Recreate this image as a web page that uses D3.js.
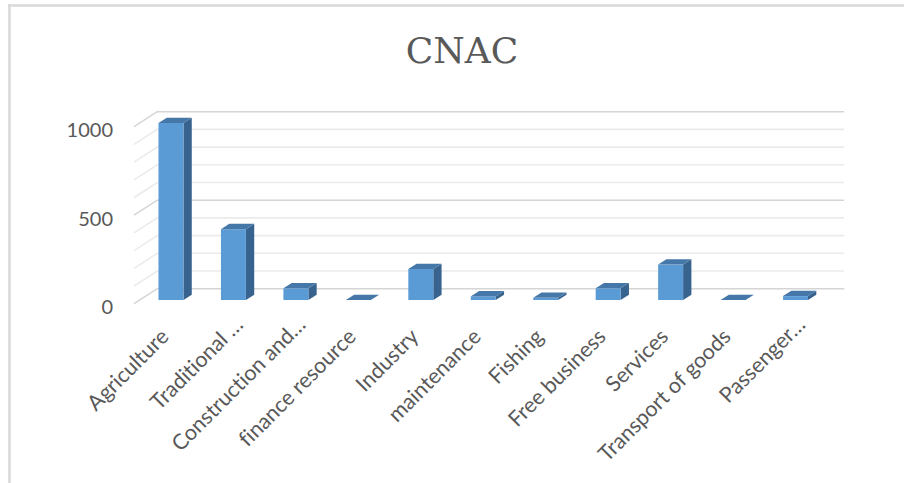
<!DOCTYPE html>
<html>
<head>
<meta charset="utf-8">
<script src="https://cdn.jsdelivr.net/npm/d3@7"></script>
<style>
  html, body { margin: 0; padding: 0; background: #ffffff; }
  svg { display: block; }
  text { font-variant-ligatures: none; }
</style>
</head>
<body>
<svg id="chart" width="904" height="483"></svg>
<script>
// Chart data
const title = "CNAC";
const categories = [
  "Agriculture", "Traditional …", "Construction and…", "finance resource",
  "Industry", "maintenance", "Fishing", "Free business", "Services",
  "Transport of goods", "Passenger…"
];
const values = [1000, 400, 66, 0, 175, 20, 12, 66, 200, 0, 22];
const yTickValues = [0, 500, 1000];
const yMax = 1000;

// Layout of the oblique 3-D plot box
const plotLeft = 134, plotRight = 821;      // front edge of the floor
const plotBottom = 303.7, plotTop = 126.7;  // value 0 / yMax on the front plane
const depthDx = 23.3, depthDy = -15;        // offset from front plane to back wall
const barFrontDepth = 0.247, barBackDepth = 0.603;
const barWidthFrac = 0.4;

const textColor = "#595959";
const colors = { front: "#5b9bd5", top: "#4677a9", side: "#38638e" };

const svg = d3.select("#chart");

const x = d3.scaleBand().domain(categories).range([plotLeft, plotRight]).padding(0);
const y = d3.scaleLinear().domain([0, yMax]).range([plotBottom, plotTop]);

// project a point of the front plane to a given depth (0 = front, 1 = back wall)
const P = (px, py, f) => [px + depthDx * f, py + depthDy * f];

// chart frame
svg.append("line").attr("x1", 9.5).attr("x2", 9.5).attr("y1", 4).attr("y2", 483)
  .attr("stroke", "#d9d9d9").attr("stroke-width", 2.5);
svg.append("line").attr("x1", 8).attr("x2", 904).attr("y1", 5.5).attr("y2", 5.5)
  .attr("stroke", "#d9d9d9").attr("stroke-width", 2.5);

// title
svg.append("text")
  .attr("x", 462).attr("y", 63)
  .attr("text-anchor", "middle")
  .attr("font-family", "'DejaVu Serif', serif")
  .attr("font-size", 36)
  .attr("fill", textColor)
  .text(title);

// gridlines: side wall diagonals + back wall horizontals
const gridValues = y.ticks(10);
const grid = svg.append("g").attr("fill", "none");
gridValues.forEach(v => {
  const major = yTickValues.includes(v);
  const stroke = major ? "#d5d5d5" : "#ebebeb";
  const a = P(plotLeft, y(v), 0), b = P(plotLeft, y(v), 1), c = P(plotRight, y(v), 1);
  grid.append("path")
    .attr("d", d3.line()([a, b, c]))
    .attr("stroke", stroke).attr("stroke-width", 1.6);
});

// 3-D columns
const bw = x.bandwidth() * barWidthFrac;
const bars = svg.append("g");
categories.forEach((c, i) => {
  const x0 = x(c) + (x.bandwidth() - bw) / 2, x1 = x0 + bw;
  const yb = y(0), yt = y(values[i]);
  const f0 = barFrontDepth, f1 = barBackDepth;
  const g = bars.append("g");
  g.append("polygon").attr("fill", colors.side)
    .attr("points", [P(x1, yt, f0), P(x1, yt, f1), P(x1, yb, f1), P(x1, yb, f0)].join(" "));
  g.append("polygon").attr("fill", colors.front)
    .attr("points", [P(x0, yt, f0), P(x1, yt, f0), P(x1, yb, f0), P(x0, yb, f0)].join(" "));
  g.append("polygon").attr("fill", colors.top)
    .attr("points", [P(x0, yt, f0), P(x1, yt, f0), P(x1, yt, f1), P(x0, yt, f1)].join(" "));
});

// y axis labels (on the front plane)
const yAxis = svg.append("g")
  .attr("transform", "translate(113,3.5)")
  .call(d3.axisLeft(y).tickValues(yTickValues).tickSize(0).tickPadding(0).tickFormat(d3.format("d")));
yAxis.select(".domain").remove();
yAxis.selectAll("text")
  .attr("font-family", "Lato, sans-serif")
  .attr("font-size", 20)
  .attr("fill", textColor);

// x axis labels, rotated 45°
const xAxis = svg.append("g")
  .attr("transform", `translate(${depthDx * barFrontDepth - 1},338)`)
  .call(d3.axisBottom(x).tickSize(0).tickPadding(0));
xAxis.select(".domain").remove();
xAxis.selectAll("text")
  .attr("y", 0).attr("dy", 0)
  .attr("dx", d => d.endsWith("…") ? 17 : 0)
  .attr("text-anchor", "end")
  .attr("transform", "rotate(-45)")
  .attr("font-family", "Lato, sans-serif")
  .attr("font-size", 21.5)
  .attr("fill", textColor);
</script>
</body>
</html>
